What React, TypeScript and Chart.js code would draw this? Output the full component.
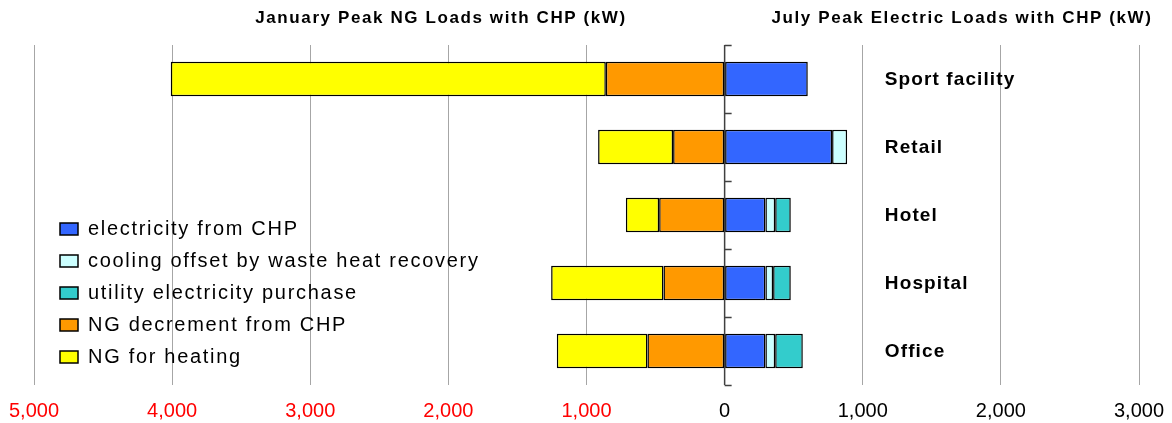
import { useEffect, useRef } from "react";
import { Chart, registerables } from "chart.js";

Chart.register(...registerables);

const categories = ["Sport facility", "Retail", "Hotel", "Hospital", "Office"];
const electricityFromCHP = [602, 778, 295, 295, 295];
const coolingOffset = [null, 109, 71, 56, 71];
const utilityPurchase = [null, null, 113, 128, 200];
const ngDecrement = [-860, -373, -474, -443, -559];
const ngHeating = [-3150, -543, -241, -813, -656];
const xTickValues = [-5000, -4000, -3000, -2000, -1000, 0, 1000, 2000, 3000];
const leftTitle = "January Peak NG Loads with CHP (kW)";
const rightTitle = "July Peak Electric Loads with CHP (kW)";
const seriesNames = [
  "electricity from CHP",
  "cooling offset by waste heat recovery",
  "utility electricity purchase",
  "NG decrement from CHP",
  "NG for heating",
];
const seriesColors = ["#3366FF", "#CCFFFF", "#33CCCC", "#FF9900", "#FFFF00"];

const FONT = "'Liberation Sans', Arial, sans-serif";

const overlayPlugin = {
  id: "overlay",
  beforeDatasetsDraw(chart: any) {
    const { ctx, chartArea, scales } = chart;
    const x0 = scales.x.getPixelForValue(0);
    const band = (chartArea.bottom - chartArea.top) / categories.length;
    ctx.save();
    ctx.strokeStyle = "#404040";
    ctx.lineWidth = 1.5;
    ctx.beginPath();
    ctx.moveTo(x0, chartArea.top);
    ctx.lineTo(x0, chartArea.bottom);
    for (let i = 0; i <= categories.length; i++) {
      const y = Math.round(chartArea.top + band * i) + 0.5;
      ctx.moveTo(x0, y);
      ctx.lineTo(x0 + 7, y);
    }
    ctx.stroke();
    ctx.restore();
  },
  afterDraw(chart: any) {
    const { ctx, scales } = chart;
    ctx.save();
    // titles
    ctx.fillStyle = "#000";
    ctx.font = `bold 17px ${FONT}`;
    (ctx as any).letterSpacing = "1.6px";
    ctx.textAlign = "center";
    ctx.textBaseline = "middle";
    ctx.fillText(leftTitle, 441, 18);
    ctx.fillText(rightTitle, 962, 18);
    // category labels
    ctx.textAlign = "left";
    ctx.font = `bold 19px ${FONT}`;
    (ctx as any).letterSpacing = "1.1px";
    categories.forEach((c, i) => {
      const y = scales.y.getPixelForValue(i);
      ctx.fillText(c, scales.x.getPixelForValue(1160), y + 1);
    });
    // legend
    ctx.font = `20px ${FONT}`;
    (ctx as any).letterSpacing = "1.7px";
    ctx.textBaseline = "alphabetic";
    seriesNames.forEach((name, i) => {
      const cy = 229 + i * 32;
      ctx.fillStyle = seriesColors[i];
      ctx.fillRect(60, cy - 6, 18, 12);
      ctx.strokeStyle = "#000";
      ctx.lineWidth = 1.5;
      ctx.strokeRect(60, cy - 6, 18, 12);
      ctx.fillStyle = "#000";
      ctx.fillText(name, 88, cy + 6);
    });
    ctx.restore();
  },
};

export default function App() {
  const ref = useRef<HTMLCanvasElement | null>(null);
  useEffect(() => {
    if (!ref.current) return;
    const seriesData = [electricityFromCHP, coolingOffset, utilityPurchase, ngDecrement, ngHeating];
    const chart = new Chart(ref.current, {
      type: "bar",
      data: {
        labels: categories,
        datasets: seriesNames.map((name, i) => ({
          label: name,
          data: seriesData[i] as any,
          backgroundColor: seriesColors[i],
          borderColor: "#000",
          borderWidth: 1.5,
          borderSkipped: false,
          barPercentage: 0.51,
          categoryPercentage: 1,
        })),
      },
      options: {
        indexAxis: "y",
        responsive: false,
        animation: false,
        layout: { padding: { left: 34, right: 33, top: 45, bottom: 0 } },
        plugins: { legend: { display: false }, tooltip: { enabled: false }, title: { display: false } },
        scales: {
          x: {
            type: "linear",
            stacked: true,
            min: -5000,
            max: 3000,
            afterBuildTicks: (axis: any) => {
              axis.ticks = xTickValues.map((v) => ({ value: v }));
            },
            afterFit: (axis: any) => {
              axis.paddingLeft = 0;
              axis.paddingRight = 0;
              axis.paddingTop = 0;
              axis.paddingBottom = 0;
              axis.height = 38;
            },
            border: { display: false },
            grid: {
              drawTicks: false,
              lineWidth: 1,
              color: (c: any) => (c.tick && c.tick.value === 0 ? "rgba(0,0,0,0)" : "#A6A6A6"),
            },
            ticks: {
              padding: 14,
              maxRotation: 0,
              font: { family: FONT, size: 20 },
              color: (c: any) => (c.tick && c.tick.value < 0 ? "#FF0000" : "#000000"),
              callback: (v: any) => Math.abs(Number(v)).toLocaleString("en-US"),
            },
          },
          y: {
            type: "category",
            stacked: true,
            display: false,
          },
        },
      },
      plugins: [overlayPlugin],
    });
    return () => chart.destroy();
  }, []);
  return (
    <canvas
      ref={ref}
      width={1172}
      height={423}
      style={{ position: "fixed", left: 0, top: 0, width: 1172, height: 423, display: "block" }}
    />
  );
}
